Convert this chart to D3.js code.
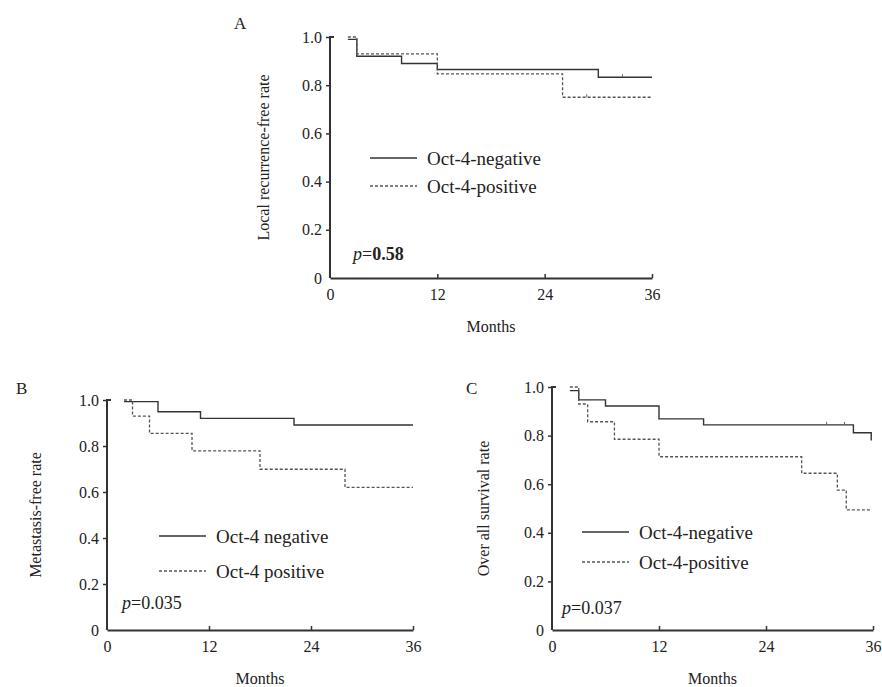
<!DOCTYPE html>
<html>
<head>
<meta charset="utf-8">
<script src="https://cdn.jsdelivr.net/npm/d3@7"></script>
<style>
    body { margin: 0; background: #fff; }
    text { font-family: 'Liberation Serif', 'Times New Roman', serif; fill: #222; }
</style>
</head>
<body>
<div id="content"></div>
<script>
'use strict';

// months / survival pairs (step after)
var aNegative = [[2, 0.99], [3, 0.92], [8, 0.89], [12, 0.865], [30, 0.833], [36, 0.833]]
var aPositive = [[2, 1.0], [3, 0.93], [12, 0.847], [26, 0.75], [36, 0.75]]
var bNegative = [[2, 0.993], [6, 0.949], [11, 0.92], [22, 0.891], [36, 0.891]]
var bPositive = [[2, 1.0], [3, 0.93], [5, 0.855], [10, 0.779], [18, 0.699], [28, 0.62], [36, 0.62]]
var cNegative = [[2, 0.985], [3, 0.947], [6, 0.922], [12, 0.869], [17, 0.844], [33.8, 0.812], [35.8, 0.78]]
var cPositive = [[2, 1.0], [3, 0.93], [4, 0.857], [7, 0.785], [12, 0.713], [28, 0.645], [32, 0.576], [33, 0.494], [35.8, 0.494]]

// censor marks (month, value)
var aCensorNeg = [[32.7, 0.833]]
var aCensorPos = [[28.7, 0.75]]
var cCensorNeg = [[30.8, 0.844], [32.8, 0.844]]

var yTicks = [0, 0.2, 0.4, 0.6, 0.8, 1.0]
var xTicks = [0, 12, 24, 36]

var panels = [
    { letter: 'A', ylabel: 'Local recurrence-free rate', neg: aNegative, pos: aPositive, negName: 'Oct-4-negative', posName: 'Oct-4-positive', p: '0.58', pBold: true, censorNeg: aCensorNeg, censorPos: aCensorPos,
      x0: 330, x1: 652, y0: 278, y1: 37, letterX: 234, letterY: 29, ylabelX: 263, legX: 370, legY1: 158, legY2: 186, pX: 353, pY: 260 },
    { letter: 'B', ylabel: 'Metastasis-free rate', neg: bNegative, pos: bPositive, negName: 'Oct-4 negative', posName: 'Oct-4 positive', p: '0.035', pBold: false, censorNeg: [], censorPos: [],
      x0: 107, x1: 413, y0: 630, y1: 400, letterX: 16, letterY: 394, ylabelX: 35, legX: 159, legY1: 536, legY2: 571, pX: 122, pY: 609 },
    { letter: 'C', ylabel: 'Over all survival rate', neg: cNegative, pos: cPositive, negName: 'Oct-4-negative', posName: 'Oct-4-positive', p: '0.037', pBold: false, censorNeg: cCensorNeg, censorPos: [],
      x0: 552, x1: 873, y0: 630, y1: 387, letterX: 466, letterY: 394, ylabelX: 483, legX: 582, legY1: 532, legY2: 562, pX: 562, pY: 614 }
]

var width = 882
var height = 687
var svg = d3.select('#content').append('svg').attr('width', width).attr('height', height)

var lineColor = '#333'

panels.forEach(function(p) {
    var x = d3.scaleLinear().domain([0, 36]).range([p.x0, p.x1])
    var y = d3.scaleLinear().domain([0, 1]).range([p.y0, p.y1])
    var g = svg.append('g').attr('class', 'panel')

    // y axis
    var yAxis = d3.axisLeft(y).tickValues(yTicks).tickSize(4).tickPadding(4)
        .tickFormat(function(d) { return d === 0 ? '0' : d3.format('.1f')(d) })
    var ya = g.append('g').attr('transform', 'translate(' + p.x0 + ',0)').call(yAxis)
    ya.select('.domain').attr('d', 'M0,' + p.y0 + 'V' + p.y1 + 'h4').attr('stroke', lineColor).attr('stroke-width', 2).attr('fill', 'none')
    ya.selectAll('.tick line').attr('stroke', lineColor).attr('stroke-width', 1.5)
    ya.selectAll('.tick text').style('font-size', '16px').style('font-family', 'Liberation Serif').attr('fill', '#222')
    ya.selectAll('.tick').filter(function(d) { return d === 0 }).select('line').remove()

    // x axis, ticks point inwards
    var xAxis = d3.axisBottom(x).tickValues(xTicks).tickSizeInner(-4).tickSizeOuter(0).tickPadding(11)
    var xa = g.append('g').attr('transform', 'translate(0,' + p.y0 + ')').call(xAxis)
    xa.select('.domain').attr('stroke', lineColor).attr('stroke-width', 2)
    xa.selectAll('.tick line').attr('stroke', lineColor).attr('stroke-width', 1.5)
    xa.selectAll('.tick text').style('font-size', '16px').style('font-family', 'Liberation Serif').attr('fill', '#222')
    xa.selectAll('.tick').filter(function(d) { return d === 0 }).select('line').remove()

    var line = d3.line().x(function(d) { return x(d[0]) }).y(function(d) { return y(d[1]) }).curve(d3.curveStepAfter)

    g.append('path').datum(p.neg).attr('d', line)
        .attr('fill', 'none').attr('stroke', lineColor).attr('stroke-width', 1.4)
    g.append('path').datum(p.pos).attr('d', line)
        .attr('fill', 'none').attr('stroke', '#555').attr('stroke-width', 1.3).attr('stroke-dasharray', '3,2')

    // censor ticks
    g.selectAll('.cn').data(p.censorNeg.concat(p.censorPos)).enter().append('line')
        .attr('x1', function(d) { return x(d[0]) }).attr('x2', function(d) { return x(d[0]) })
        .attr('y1', function(d) { return y(d[1]) }).attr('y2', function(d) { return y(d[1]) - 3 })
        .attr('stroke', '#666').attr('stroke-width', 1)

    // titles
    g.append('text').attr('x', p.letterX).attr('y', p.letterY).style('font-size', '17px').text(p.letter)
    g.append('text').attr('transform', 'translate(' + p.ylabelX + ',' + ((p.y0 + p.y1) / 2) + ') rotate(-90)')
        .attr('text-anchor', 'middle').attr('dy', '0.35em').style('font-size', '16px').text(p.ylabel)
    g.append('text').attr('x', (p.x0 + p.x1) / 2).attr('y', p.y0 + 54)
        .attr('text-anchor', 'middle').style('font-size', '16px').text('Months')

    // legend
    g.append('line').attr('x1', p.legX).attr('x2', p.legX + 47).attr('y1', p.legY1).attr('y2', p.legY1)
        .attr('stroke', lineColor).attr('stroke-width', 1.4)
    g.append('line').attr('x1', p.legX).attr('x2', p.legX + 47).attr('y1', p.legY2).attr('y2', p.legY2)
        .attr('stroke', '#555').attr('stroke-width', 1.3).attr('stroke-dasharray', '3,2')
    g.append('text').attr('x', p.legX + 57).attr('y', p.legY1).attr('dy', '0.35em').style('font-size', '19px').text(p.negName)
    g.append('text').attr('x', p.legX + 57).attr('y', p.legY2).attr('dy', '0.35em').style('font-size', '19px').text(p.posName)

    // p value
    var pt = g.append('text').attr('x', p.pX).attr('y', p.pY).style('font-size', '18px')
    pt.append('tspan').style('font-style', 'italic').text('p')
    pt.append('tspan').text('=')
    pt.append('tspan').style('font-weight', p.pBold ? 'bold' : 'normal').text(p.p)
})
</script>
</body>
</html>
